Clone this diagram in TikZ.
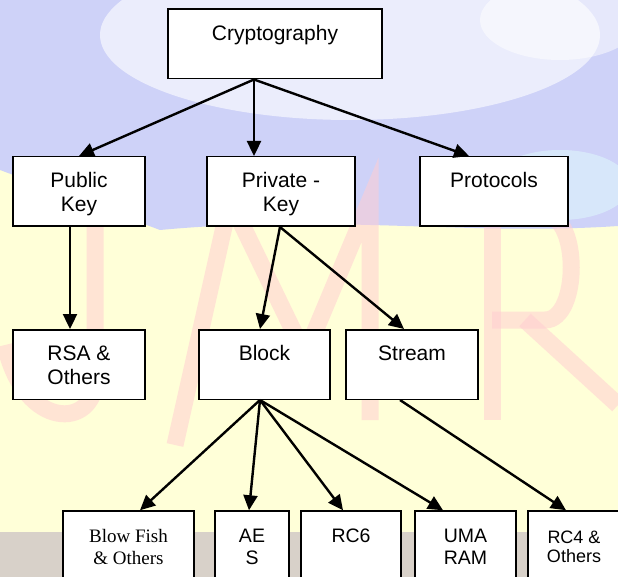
\documentclass[tikz,border=0pt]{standalone}
\usepackage{fontspec}
\setmainfont{Liberation Sans}
\newfontfamily\serifrm{Liberation Serif}
\usetikzlibrary{arrows.meta}
\definecolor{skyblue}{RGB}{206,210,248}
\definecolor{skycyan}{RGB}{222,246,252}
\definecolor{paleyellow}{RGB}{255,255,216}
\definecolor{stonegray}{RGB}{216,209,201}
\definecolor{markpink}{RGB}{255,206,210}

\begin{document}
\begin{tikzpicture}[x=1pt,y=-1pt,
    box/.style={draw,rectangle,fill=white,line width=1.5pt,minimum height=69.5pt,
      inner sep=2pt,align=center,font=\fontsize{21}{24}\selectfont},
    leaf/.style={box,minimum height=70pt,font=\fontsize{19.5}{22}\selectfont},
    link/.style={-{Triangle[length=15pt,width=14pt]},line width=2.4pt}]
  % page background
  \clip (0,0) rectangle (618,577);
  \fill[paleyellow] (0,0) rectangle (618,577);
  \fill[skyblue] (0,0) -- (618,0) -- (618,226)
    .. controls (470,236) and (330,214) .. (160,230) -- (0,170) -- cycle;
  \fill[white,opacity=.6] (350,35) ellipse (250pt and 85pt);
  \fill[white,opacity=.5] (560,20) ellipse (80pt and 40pt);
  \fill[skycyan,opacity=.6] (560,185) ellipse (70pt and 35pt);
  \fill[stonegray] (0,532) rectangle (618,577);
  \begin{scope}[markpink,line width=17pt,opacity=.55]
    \draw (95,200) -- (95,380) .. controls (95,428) and (25,432) .. (5,345);
    \draw (175,445) -- (230,200) -- (305,355) -- (370,200) -- (370,420);
    \draw (492,200) -- (492,420);
    \draw (492,215) -- (545,215) .. controls (580,215) and (580,320) .. (545,320) -- (492,320);
    \draw (525,320) -- (618,405);
  \end{scope}
  % the tree
  \draw
    (275,44) node[box,minimum width=214pt] (crypto) {\strut Cryptography\\\smash{}}
    (79,191.5) node[box,minimum width=132pt] (pub) {\strut Public\\\smash{Key}}
    (281,191.5) node[box,minimum width=148pt] (priv) {\strut Private -\\\smash{Key}}
    (494,191.5) node[box,minimum width=148pt] (proto) {\strut Protocols\\\smash{}}
    (79,364.5) node[box,minimum width=132pt] (rsa) {\strut RSA \&\\\smash{Others}}
    (264.5,364.5) node[box,minimum width=131pt] (block) {\strut Block\\\smash{}}
    (412,364.5) node[box,minimum width=132pt] (stream) {\strut Stream\\\smash{}}
    (128.5,546) node[leaf,minimum width=131pt,font=\serifrm\fontsize{19}{22}\selectfont] (blow) {\strut Blow Fish\\\smash{\& Others}}
    (252,546) node[leaf,minimum width=74pt] (aes) {\strut AE\\\smash{S}}
    (351,546) node[leaf,minimum width=100pt] (rc6) {\strut RC6\\\smash{}}
    (465.5,546) node[leaf,minimum width=101pt] (uma) {\strut UMA\\\smash{RAM}}
    (574,546) node[leaf,minimum width=92pt,font=\fontsize{18}{19}\selectfont] (rc4) {\strut RC4 \&\\\smash{Others}};
  \begin{scope}[link]
    \draw ([xshift=-21pt]crypto.south) to (pub.north);
    \draw ([xshift=-21pt]crypto.south) to ([xshift=-27pt]priv.north);
    \draw ([xshift=-21pt]crypto.south) to ([xshift=-25pt]proto.north);
    \draw ([xshift=-9pt]pub.south) to ([xshift=-9pt]rsa.north);
    \draw ([xshift=-1pt]priv.south) to ([xshift=-4.5pt]block.north);
    \draw ([xshift=-1pt]priv.south) to ([xshift=-8pt]stream.north);
    \draw ([xshift=-4.5pt]block.south) to ([xshift=11.5pt]blow.north);
    \draw ([xshift=-4.5pt]block.south) to ([xshift=-3pt]aes.north);
    \draw ([xshift=-4.5pt]block.south) to ([xshift=-8pt]rc6.north);
    \draw ([xshift=-4.5pt]block.south) to ([xshift=-22.5pt]uma.north);
    \draw ([xshift=-12pt]stream.south) to ([xshift=-8pt]rc4.north);
  \end{scope}
\end{tikzpicture}
\end{document}
